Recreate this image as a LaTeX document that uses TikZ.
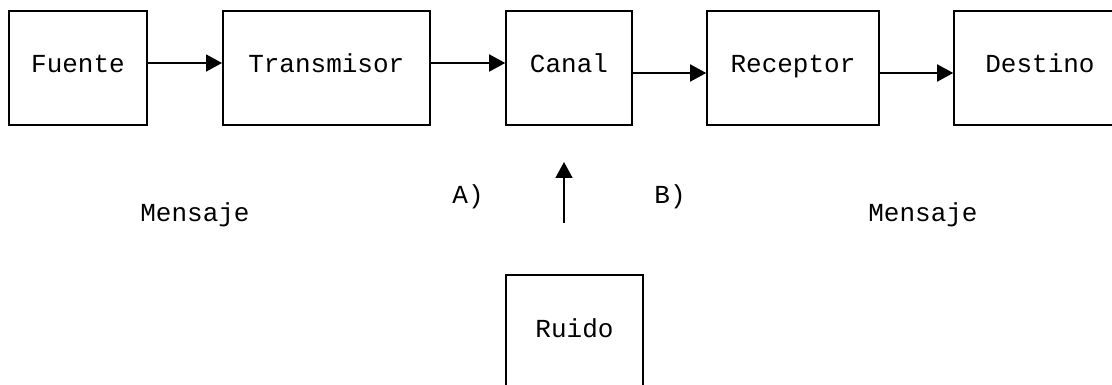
\documentclass[tikz,border=0pt]{standalone}
\usepackage{fontspec}
\setmonofont{Liberation Mono}
\usetikzlibrary{arrows.meta}
\begin{document}
\begin{tikzpicture}[x=1pt,y=-1pt,
  box/.style={draw, line width=1.6pt, minimum height=114pt, inner sep=0pt,
    text height=18pt, text depth=8pt, font=\ttfamily\fontsize{26}{30}\selectfont},
  txt/.style={inner sep=0pt, anchor=base, font=\ttfamily\fontsize{26}{30}\selectfont},
  arr/.style={line width=1.6pt, -{Triangle[length=16pt,width=17pt]}}]
\clip (0,0) rectangle (1112,385);
\fill[white] (0,0) rectangle (1112,385);
\node[box, minimum width=138pt] (fuente) at (78,68) {Fuente};
\node[box, minimum width=207pt] (trans) at (326.3,68) {Transmisor};
\node[box, minimum width=126pt] (canal) at (569,68) {Canal};
\node[box, minimum width=172pt] (recep) at (793,68) {Receptor};
\node[box, minimum width=172pt] (dest) at (1040,68) {Destino};
\node[box, minimum width=137pt] (ruido) at (574.5,332) {Ruido};
\draw[arr] ([yshift=5pt]fuente.east) -- ([yshift=5pt]trans.west);
\draw[arr] ([yshift=5pt]trans.east) -- ([yshift=5pt]canal.west);
\draw[arr] ([yshift=-5pt]canal.east) -- ([yshift=-5pt]recep.west);
\draw[arr] ([yshift=-5pt]recep.east) -- ([yshift=-5pt]dest.west);
\coordinate (nbot) at (564,223);
\coordinate (ntop) at (564,162);
\draw[arr] (nbot) -- (ntop);
\node[txt] (m1) at (195,222) {Mensaje};
\node[txt] (m2) at (923,222) {Mensaje};
\node[txt] (la) at (468,204) {A)};
\node[txt] (lb) at (670,204) {B)};
\end{tikzpicture}
\end{document}
